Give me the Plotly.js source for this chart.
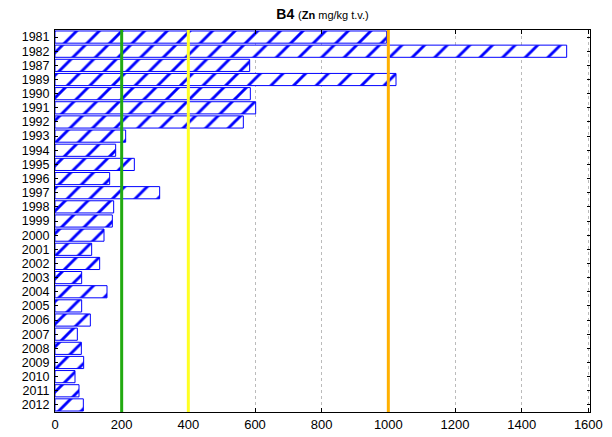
<!DOCTYPE html>
<html>
<head>
<meta charset="utf-8">
<script src="https://cdn.plot.ly/plotly-3.0.1.min.js"></script>
<style>html,body{margin:0;padding:0;background:#fff;}#chart{width:612px;height:437px;}</style>
</head>
<body>
<div id="chart"></div>
<script>
const years = ["1981","1982","1987","1989","1990","1991","1992","1993","1994","1995","1996","1997","1998","1999","2000","2001","2002","2003","2004","2005","2006","2007","2008","2009","2010","2011","2012"];
const znValues = [995,1535,584,1023,586,602,565,212,182,238,164,314,176,172,147,110,134,80,156,80,106,67,79,86,60,72,85];
const limitValues = [200,400,1000];
const limitColors = ["#22aa11","#ffff22","#ffb000"];
const xTicks = [0,200,400,600,800,1000,1200,1400,1600];

const trace = {
  type: "bar",
  orientation: "h",
  x: znValues,
  y: years,
  width: 0.86,
  marker: {
    color: "#ffffff",
    line: {color: "#0000ff", width: 1},
    pattern: {shape: "/", fgcolor: "#0000ff", bgcolor: "#ffffff", size: 16, solidity: 0.18}
  },
  hoverinfo: "none"
};

const shapes = limitValues.map((v, i) => ({
  type: "line", xref: "x", yref: "paper", x0: v, x1: v, y0: 0, y1: 1,
  line: {color: limitColors[i], width: 3}, layer: "above"
}));

const layout = {
  width: 612, height: 437,
  margin: {l: 55, r: 22, t: 30, b: 25, pad: 0},
  paper_bgcolor: "#fff", plot_bgcolor: "#fff",
  font: {family: "Liberation Sans, Arial, sans-serif", color: "#000", size: 12.5},
  title: {
    text: "<b>B4</b> <span style='font-size:11px'>(<b>Zn</b> mg/kg t.v.)</span>",
    font: {size: 14, family: "Liberation Sans, Arial, sans-serif", color: "#000"},
    x: 0.527, xanchor: "center", y: 0.968, yanchor: "middle"
  },
  xaxis: {
    range: [0, 1605], tickmode: "array", tickvals: xTicks, ticktext: xTicks.map(String),
    showgrid: true, gridcolor: "#bbbbbb", griddash: "dot", gridwidth: 1,
    zeroline: false, showline: true, linecolor: "#000", linewidth: 1, mirror: "ticks",
    ticks: "inside", ticklen: 4, tickcolor: "#000",
    tickfont: {size: 13}
  },
  yaxis: {
    type: "category", categoryorder: "array", categoryarray: years,
    tickmode: "array", tickvals: years, ticktext: years,
    autorange: "reversed",
    showgrid: false, zeroline: false, showline: true, linecolor: "#000", linewidth: 1, mirror: "ticks",
    ticks: "inside", ticklen: 3, tickcolor: "#000",
    tickfont: {size: 12.5}, ticklabelstandoff: 2
  },
  shapes: shapes,
  showlegend: false
};

Plotly.newPlot("chart", [trace], layout, {staticPlot: true, displayModeBar: false});
</script>
</body>
</html>
